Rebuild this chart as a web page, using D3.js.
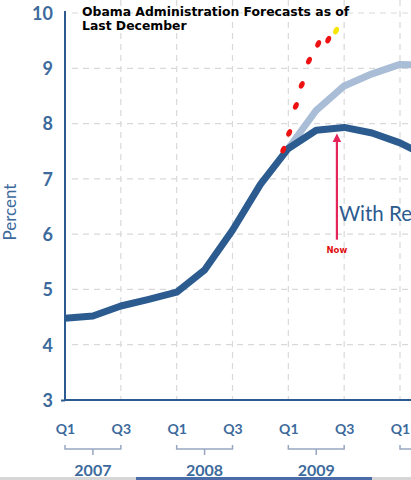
<!DOCTYPE html>
<html>
<head>
<meta charset="utf-8">
<script src="https://cdn.jsdelivr.net/npm/d3@7"></script>
<style>
  html, body { margin: 0; padding: 0; background: #fff; }
  svg { display: block; }
</style>
</head>
<body>
<div id="chart"></div>
<script>
// quarters from Q1 2007 to Q2 2010
const quarterLabels = ['Q1', 'Q2', 'Q3', 'Q4', 'Q1', 'Q2', 'Q3', 'Q4', 'Q1', 'Q2', 'Q3', 'Q4', 'Q1', 'Q2'];
const years = ['2007', '2008', '2009', '2010'];
const yTicks = [3, 4, 5, 6, 7, 8, 9, 10];
// unemployment rate, with recovery plan
const withPlan = [4.48, 4.52, 4.7, 4.82, 4.95, 5.35, 6.07, 6.9, 7.55, 7.88, 7.93, 7.83, 7.65, 7.4];
// without recovery plan, starts at Q1 2009
const withoutStart = 8;
const withoutPlan = [7.55, 8.24, 8.68, 8.9, 9.07, 9.05];
// actual monthly rates, drawn as dots (position in quarters)
const actualPos = [7.82, 8.03, 8.27, 8.48, 8.74, 9.07, 9.43, 9.71];
const actualRate = [7.53, 7.83, 8.32, 8.7, 9.14, 9.44, 9.52, 9.68];
const nowPos = 9.74;
const nowRange = [5.9, 7.83];

const W = 411, H = 480;
const m = { left: 65, top: 13, bottom: 400 };
const blue = '#2c5b90';
const labelBlue = '#3c6a9c';

const svg = d3.select('#chart').append('svg')
  .attr('width', W).attr('height', H);

const x = d3.scaleLinear().domain([0, 12]).range([m.left, 400]);
const y = d3.scaleLinear().domain([3, 10]).range([m.bottom, m.top]);

// grid
const grid = svg.append('g').attr('class', 'grid')
  .attr('stroke', '#d9d9d9').attr('stroke-width', 1.2).attr('stroke-dasharray', '6,5');
grid.selectAll('line.h')
  .data(yTicks.filter(d => d > 3))
  .enter().append('line')
  .attr('x1', 72).attr('x2', W)
  .attr('y1', d => y(d)).attr('y2', d => y(d));
grid.selectAll('line.v')
  .data(d3.range(2, 14, 2))
  .enter().append('line')
  .attr('x1', d => x(d)).attr('x2', d => x(d))
  .attr('y1', 0).attr('y2', m.bottom);

// title
const title = svg.append('text')
  .attr('font-family', 'DejaVu Sans, Verdana, sans-serif')
  .attr('font-weight', 'bold').attr('font-size', 12.4).attr('fill', '#000');
title.append('tspan').attr('x', 82).attr('y', 16).text('Obama Administration Forecasts as of');
title.append('tspan').attr('x', 82).attr('y', 30).text('Last December');

// lines
const line = d3.line().x(d => x(d.i)).y(d => y(d.v));
svg.append('path')
  .attr('d', line(withoutPlan.map((v, i) => ({ i: i + withoutStart, v }))))
  .attr('fill', 'none').attr('stroke', '#a9bdd7').attr('stroke-width', 7)
  .attr('stroke-linejoin', 'round');
svg.append('path')
  .attr('d', line(withPlan.map((v, i) => ({ i, v }))))
  .attr('fill', 'none').attr('stroke', blue).attr('stroke-width', 7)
  .attr('stroke-linejoin', 'round');

// actual dots
svg.selectAll('ellipse.actual')
  .data(actualPos.map((p, i) => ({ p, v: actualRate[i], last: i === actualPos.length - 1 })))
  .enter().append('ellipse')
  .attr('class', 'actual')
  .attr('transform', d => `translate(${x(d.p)},${y(d.v)}) rotate(25)`)
  .attr('rx', 2.6).attr('ry', 4)
  .attr('fill', d => d.last ? '#f5e600' : '#ee1111');

// "now" arrow
svg.append('defs').append('marker')
  .attr('id', 'head').attr('viewBox', '0 0 10 10')
  .attr('refX', 5).attr('refY', 5).attr('markerWidth', 9).attr('markerHeight', 11)
  .attr('markerUnits', 'userSpaceOnUse').attr('orient', 'auto')
  .append('path').attr('d', 'M0,0 L10,5 L0,10 Z').attr('fill', '#e5245a');
svg.append('line')
  .attr('x1', x(nowPos)).attr('x2', x(nowPos))
  .attr('y1', y(nowRange[0])).attr('y2', y(nowRange[1]) + 5)
  .attr('stroke', '#e5245a').attr('stroke-width', 2.2)
  .attr('marker-end', 'url(#head)');
svg.append('text')
  .attr('x', x(nowPos)).attr('y', y(nowRange[0]) + 13)
  .attr('text-anchor', 'middle')
  .attr('font-family', 'DejaVu Sans, sans-serif').attr('font-weight', 'bold')
  .attr('font-size', 8.5).attr('fill', '#e01010')
  .text('Now');
svg.append('text')
  .attr('x', x(nowPos) + 2).attr('y', 221)
  .attr('font-family', 'Lato, sans-serif').attr('font-size', 20.5).attr('fill', blue)
  .text('With Recovery Plan');

// y axis
const yAxis = d3.axisLeft(y).tickValues(yTicks).tickSize(4).tickPadding(9).tickFormat(d3.format('d'));
const gy = svg.append('g').attr('transform', `translate(${m.left},0)`).call(yAxis);
gy.select('.domain').remove();
gy.selectAll('.tick line').filter(d => d !== 3).remove();
gy.selectAll('.tick line').attr('stroke', blue).attr('stroke-width', 2).attr('x2', -4);
gy.selectAll('.tick text')
  .attr('font-family', 'Lato, sans-serif').attr('font-weight', 'bold')
  .attr('font-size', 18).attr('fill', labelBlue).attr('dy', '0.35em').attr('x', -12);

// x axis
const xAxis = d3.axisBottom(x).tickValues(d3.range(0, 14, 2)).tickSize(0).tickPadding(24)
  .tickFormat(d => quarterLabels[d]);
const gx = svg.append('g').attr('transform', `translate(0,${m.bottom})`).call(xAxis);
gx.select('.domain').remove();
gx.selectAll('.tick text')
  .attr('font-family', 'Lato, sans-serif').attr('font-weight', 'bold')
  .attr('font-size', 14).attr('fill', labelBlue);

// axis lines
svg.append('line')
  .attr('x1', m.left).attr('x2', m.left).attr('y1', 11).attr('y2', m.bottom + 1)
  .attr('stroke', blue).attr('stroke-width', 2);
svg.append('line')
  .attr('x1', m.left).attr('x2', W).attr('y1', m.bottom).attr('y2', m.bottom)
  .attr('stroke', blue).attr('stroke-width', 2);

// year brackets (the 2010 label lies beyond the right edge)
const yearG = svg.selectAll('g.year')
  .data(years)
  .enter().append('g').attr('class', 'year');
yearG.append('path')
  .attr('d', (d, i) => {
    const x0 = x(i * 4), x1 = x(i * 4 + 2), xm = x(i * 4 + 1);
    return `M${x0},445 V449 H${x1} V445 M${xm},449 V455`;
  })
  .attr('fill', 'none').attr('stroke', '#97a6c0').attr('stroke-width', 1.5);
yearG.filter((d, i) => x(i * 4 + 1) + 18 < W).append('text')
  .attr('x', (d, i) => x(i * 4 + 1)).attr('y', 476)
  .attr('text-anchor', 'middle')
  .attr('font-family', 'Lato, sans-serif').attr('font-weight', 'bold')
  .attr('font-size', 16).attr('fill', labelBlue)
  .text(d => d);

// y label
svg.append('text')
  .attr('transform', `translate(16,${y(6.4)}) rotate(-90)`)
  .attr('text-anchor', 'middle')
  .attr('font-family', 'Lato, sans-serif').attr('font-size', 17).attr('fill', labelBlue)
  .text('Percent');

// strip at the bottom edge
svg.append('rect').attr('x', 0).attr('y', H - 3).attr('width', W).attr('height', 3).attr('fill', '#d6d6d6');
svg.append('rect').attr('x', 136).attr('y', H - 3).attr('width', 236).attr('height', 3).attr('fill', '#4a6aa8');
</script>
</body>
</html>
